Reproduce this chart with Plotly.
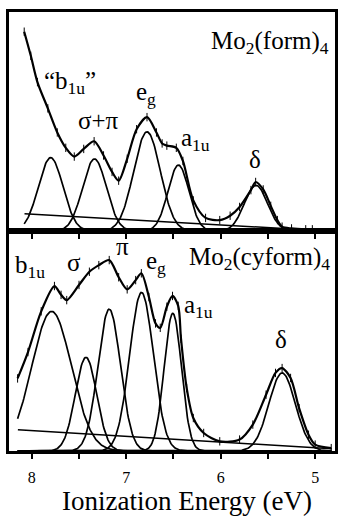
import numpy as np
import plotly.graph_objects as go

# ---------------- data ----------------
# Top panel: Mo2(form)4  (y in arbitrary units, panel height = 100)
top_centers = [7.80, 7.336, 6.78, 6.447, 5.627]
top_heights = [33.5, 32.9, 45.3, 30.1, 20.9]
top_widths = [0.13, 0.126, 0.141, 0.111, 0.122]
top_bg_x = [8.077, 5.07]
top_bg_y = [7.9, 0.5]
top_env_x = [8.08, 8.01, 7.94, 7.83, 7.73, 7.64, 7.55, 7.45, 7.34, 7.24, 7.15, 7.08,
             6.99, 6.89, 6.78, 6.68, 6.62, 6.57, 6.47, 6.40, 6.29, 6.16, 6.01, 5.90,
             5.80, 5.68, 5.63, 5.55, 5.47, 5.40, 5.35, 5.25, 5.10, 5.03]
top_env_y = [91, 80, 68, 56, 45, 38, 34, 37.5, 41, 34.5, 27, 23,
             33, 46.5, 52, 45, 40, 39, 38, 32, 14, 6, 5, 7,
             11, 18.7, 22.4, 19, 11.5, 5, 2, 1.2, 0.8, 0.8]

# Bottom panel: Mo2(cyform)4
bot_centers = [7.79, 7.426, 7.18, 6.838, 6.507, 5.35]
bot_heights = [63.5, 42.6, 64.5, 72.1, 62.6, 35.5]
bot_widths = [0.21, 0.113, 0.119, 0.126, 0.092, 0.14]
bot_bg_x = [8.147, 4.825]
bot_bg_y = [9.7, 1.0]
bot_env_x = [8.15, 8.04, 7.90, 7.76, 7.69, 7.63, 7.50, 7.39, 7.29, 7.18, 7.08, 6.99,
             6.90, 6.84, 6.76, 6.69, 6.64, 6.57, 6.51, 6.45, 6.42, 6.36, 6.29, 6.18,
             6.01, 5.80, 5.66, 5.52, 5.42, 5.35, 5.26, 5.17, 5.07, 5.00, 4.83]
bot_env_y = [33, 45, 63.5, 75, 71, 68.6, 75.5, 81.5, 84.5, 86.8, 79, 73.5,
             77.7, 80.8, 70, 58, 56, 65.6, 70.5, 66, 51, 28.6, 15, 8.2,
             4.4, 5.2, 12, 25.6, 35.5, 37.7, 33.2, 19.5, 7.4, 2.9, 1.3]

major_ticks = [8, 7, 6, 5]
minor_ticks = [7.5, 6.5, 5.5]

FONT = "Liberation Serif"
fig = go.Figure()


def add_panel(centers, heights, widths, bg_x, bg_y, env_x, env_y, x0, x1, xa, ya):
    xs = np.linspace(x0, x1, 400)
    for c, h, w in zip(centers, heights, widths):
        fig.add_trace(go.Scatter(x=xs, y=h * np.exp(-(xs - c) ** 2 / (2 * w * w)),
                                 mode="lines", line=dict(color="black", width=1.7),
                                 xaxis=xa, yaxis=ya, hoverinfo="skip"))
    fig.add_trace(go.Scatter(x=bg_x, y=bg_y, mode="lines",
                             line=dict(color="black", width=1.5),
                             xaxis=xa, yaxis=ya, hoverinfo="skip"))
    fig.add_trace(go.Scatter(x=env_x, y=env_y, mode="lines+markers",
                             line=dict(color="black", width=2.2, shape="spline", smoothing=0.8),
                             marker=dict(symbol="line-ns", size=6,
                                         line=dict(color="black", width=1)),
                             xaxis=xa, yaxis=ya, hoverinfo="skip"))


add_panel(top_centers, top_heights, top_widths, top_bg_x, top_bg_y,
          top_env_x, top_env_y, 8.08, 4.95, "x2", "y2")
add_panel(bot_centers, bot_heights, bot_widths, bot_bg_x, bot_bg_y,
          bot_env_x, bot_env_y, 8.15, 4.83, "x", "y")

ax_common = dict(range=[8.241, 4.79], tickmode="array", tickvals=major_ticks,
                 ticks="outside", ticklen=5, tickwidth=1.5, tickcolor="black",
                 minor=dict(tickmode="array", tickvals=minor_ticks, ticks="outside",
                            ticklen=5, tickwidth=1.5, tickcolor="black", showgrid=False),
                 showline=True, linewidth=3, linecolor="black", mirror=True,
                 showgrid=False, zeroline=False)
ay_common = dict(range=[0, 100], showline=True, linewidth=3, linecolor="black",
                 mirror=True, showticklabels=False, ticks="", showgrid=False,
                 zeroline=False)

fig.update_layout(
    width=340, height=517,
    margin=dict(l=9, r=2, t=12, b=66),
    paper_bgcolor="white", plot_bgcolor="white",
    showlegend=False,
    font=dict(family=FONT, color="black"),
    xaxis=dict(anchor="y", domain=[0, 1],
               tickfont=dict(family=FONT, size=16, color="black"),
               ticklabelstandoff=5, **ax_common),
    yaxis=dict(anchor="x", domain=[0, 0.501], **ay_common),
    xaxis2=dict(anchor="y2", domain=[0, 1], matches="x", showticklabels=False,
                **ax_common),
    yaxis2=dict(anchor="x2", domain=[0.501, 1], **ay_common),
)

lab = dict(font=dict(family=FONT, size=25, color="black"), showarrow=False,
           xanchor="center", yanchor="middle")
labels_top = [
    ("Mo<sub>2</sub>(form)<sub>4</sub>", 5.483, 86.3),
    ("\u201cb<sub>1u</sub>\u201d", 7.60, 67.6),
    ("\u03c3+\u03c0", 7.297, 50.4),
    ("e<sub>g</sub>", 6.794, 63.0),
    ("a<sub>1u</sub>", 6.264, 41.8),
    ("\u03b4", 5.635, 32.6),
]
labels_bot = [
    ("Mo<sub>2</sub>(cyform)<sub>4</sub>", 5.593, 87.3),
    ("b<sub>1u</sub>", 8.021, 84.1),
    ("\u03c3", 7.549, 85.5),
    ("\u03c0", 7.04, 93.2),
    ("e<sub>g</sub>", 6.683, 85.5),
    ("a<sub>1u</sub>", 6.238, 65.9),
    ("\u03b4", 5.357, 50.5),
]
for t, x, y in labels_top:
    fig.add_annotation(text=t, x=x, y=y, xref="x2", yref="y2", **lab)
for t, x, y in labels_bot:
    fig.add_annotation(text=t, x=x, y=y, xref="x", yref="y", **lab)

fig.add_annotation(text="Ionization Energy (eV)", x=0.545, y=-0.113,
                   xref="paper", yref="paper",
                   font=dict(family=FONT, size=27, color="black"),
                   showarrow=False, xanchor="center", yanchor="middle")

fig.write_html("out.html", config={"displayModeBar": False},
               post_script="document.body.style.margin='0';"
                           "document.body.style.padding='0';")
